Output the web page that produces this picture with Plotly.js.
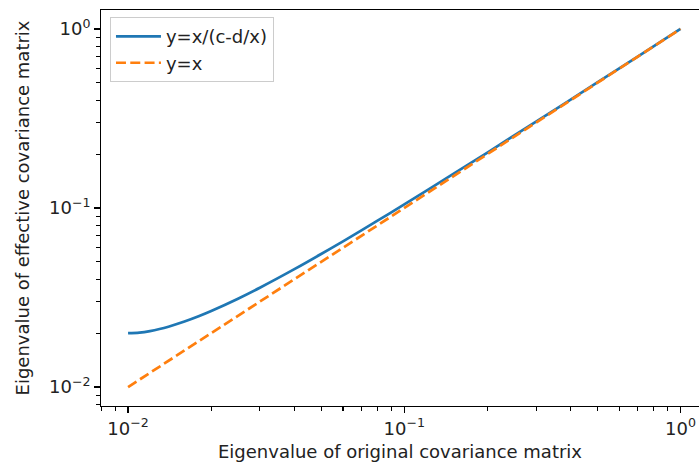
<!DOCTYPE html>
<html>
<head>
<meta charset="utf-8">
<script src="https://cdn.plot.ly/plotly-3.0.1.min.js"></script>
<style>
  html, body { margin: 0; padding: 0; background: #fff; overflow: hidden; }
  #chart { width: 699px; height: 473px; }
</style>
</head>
<body>
<div id="chart"></div>
<script>
// Eigenvalue of the original covariance matrix (x) and the effective one (y)
const eigOriginal = [0.01, 0.011, 0.012, 0.013, 0.014, 0.016, 0.018, 0.02, 0.025, 0.03,
                     0.04, 0.05, 0.06, 0.08, 0.1, 0.15, 0.2, 0.3, 0.5, 0.7, 1.0];
const eigEffective = [0.0200, 0.02015, 0.02054, 0.02108, 0.02173, 0.02321, 0.02484, 0.02658,
                      0.03113, 0.03585, 0.04552, 0.05531, 0.06516, 0.08493, 0.10476,
                      0.15442, 0.20412, 0.30358, 0.50254, 0.70152, 1.0];

// Identity reference line
const identityX = [0.01, 1.0];
const identityY = [0.01, 1.0];

const seriesNames = ['y=x/(c-d/x)', 'y=x'];

const majorVals = [0.01, 0.1, 1];
const majorText = ['10<sup>\u22122</sup>', '10<sup>\u22121</sup>', '10<sup>0</sup>'];
const minorVals = [];
[0.001, 0.01, 0.1, 1].forEach(dec => {
  for (let k = 2; k <= 9; k++) minorVals.push(+(dec * k).toPrecision(3));
});

const FONT = 'DejaVu Sans, sans-serif';
const FS = 18;
const TEXT = '#222';

const traces = [
  {
    x: eigOriginal, y: eigEffective, name: seriesNames[0],
    mode: 'lines', line: { color: '#1f77b4', width: 2.7, shape: 'spline' }
  },
  {
    x: identityX, y: identityY, name: seriesNames[1],
    mode: 'lines', line: { color: '#ff7f0e', width: 2.7, dash: '10px,4.3px' }
  }
];

function axis(title, range, standoff, mirror) {
  return {
    type: 'log', range: range,
    showgrid: false, zeroline: false,
    showline: true, linecolor: '#000', linewidth: 1.4, mirror: mirror,
    ticks: 'outside', ticklen: 5.5, tickwidth: 1.4, tickcolor: '#000',
    tickmode: 'array', tickvals: majorVals, ticktext: majorText,
    tickfont: { family: FONT, size: FS, color: TEXT },
    minor: { tickmode: 'array', tickvals: minorVals, ticks: 'outside',
             ticklen: 3.3, tickwidth: 1.1, tickcolor: '#000', showgrid: false },
    title: { text: title, font: { family: FONT, size: FS, color: TEXT }, standoff: standoff }
  };
}

const layout = {
  width: 699, height: 473,
  margin: { l: 101, r: 0, t: 10, b: 67 },
  paper_bgcolor: '#fff', plot_bgcolor: '#fff',
  font: { family: FONT, size: FS, color: TEXT },
  // plot area is cut at the right edge of the figure, so no right spine
  xaxis: axis('Eigenvalue of original covariance matrix', [-2.098, 0.067], 8, true),
  yaxis: axis('Eigenvalue of effective covariance matrix', [-2.106, 0.106], 14, false),
  showlegend: true,
  legend: {
    x: 0.015, y: 0.982, xanchor: 'left', yanchor: 'top',
    bgcolor: 'rgba(255,255,255,0.8)', bordercolor: '#cccccc', borderwidth: 1,
    font: { family: FONT, size: FS, color: TEXT },
    itemwidth: 45,
    tracegroupgap: 0
  }
};

Plotly.newPlot('chart', traces, layout, { displayModeBar: false, staticPlot: true });
</script>
</body>
</html>
